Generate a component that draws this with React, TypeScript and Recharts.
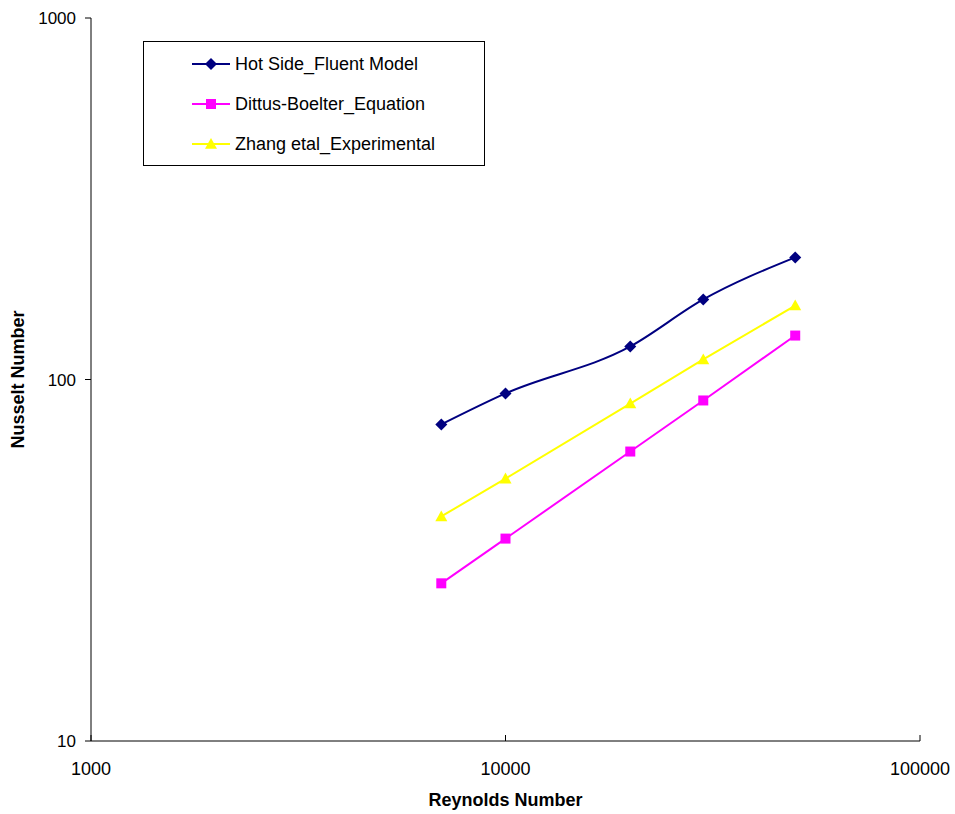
import React from "react";
import { LineChart, Line, XAxis, YAxis } from "recharts";

const reynolds = [7000, 10000, 20000, 30000, 50000];
const hotSide = [75.1, 91.5, 123.4, 166.5, 217.6];
const dittus = [27.3, 36.3, 63.2, 87.5, 132.3];
const zhang = [41.8, 53.2, 85.8, 113.6, 160.2];
const xTicks = [1000, 10000, 100000];
const yTicks = [10, 100, 1000];

const data = reynolds.map((re, i) => ({
  re,
  hot: hotSide[i],
  dittus: dittus[i],
  zhang: zhang[i],
}));

const FONT = "'Liberation Sans', Arial, sans-serif";

const Diamond = (props: any) => {
  const { cx, cy, fill } = props;
  if (cx == null || cy == null) return null;
  const r = 6;
  return <path d={`M${cx},${cy - r}L${cx + r},${cy}L${cx},${cy + r}L${cx - r},${cy}Z`} fill={fill} />;
};
const Square = (props: any) => {
  const { cx, cy, fill } = props;
  if (cx == null || cy == null) return null;
  const s = 5;
  return <rect x={cx - s} y={cy - s} width={2 * s} height={2 * s} fill={fill} />;
};
const Triangle = (props: any) => {
  const { cx, cy, fill } = props;
  if (cx == null || cy == null) return null;
  const s = 6;
  return <path d={`M${cx},${cy - s}L${cx + s},${cy + s * 0.8}L${cx - s},${cy + s * 0.8}Z`} fill={fill} />;
};

const series = [
  { key: "hot", name: "Hot Side_Fluent Model", color: "#000080", shape: Diamond, type: "monotone" },
  { key: "dittus", name: "Dittus-Boelter_Equation", color: "#FF00FF", shape: Square, type: "linear" },
  { key: "zhang", name: "Zhang etal_Experimental", color: "#FFFF00", shape: Triangle, type: "linear" },
];

const XTick = (props: any) => {
  const { x, y, payload } = props;
  return (
    <g>
      <line x1={x} y1={y} x2={x} y2={y - 6} stroke="#000" strokeWidth={1} />
      <text x={x} y={y + 34} textAnchor="middle" fontSize={18} fontFamily={FONT} fill="#000">
        {payload.value}
      </text>
    </g>
  );
};

const LegendBox = () => (
  <div
    style={{
      position: "absolute",
      left: 143,
      top: 41,
      width: 342,
      height: 125,
      border: "1px solid #000",
      background: "#fff",
      fontFamily: FONT,
      fontSize: 18,
      boxSizing: "border-box",
    }}
  >
    {series.map((s, i) => {
      const Shape = s.shape;
      return (
        <div key={s.key} style={{ position: "absolute", left: 48, top: 11 + i * 40, height: 22, display: "flex", alignItems: "center", whiteSpace: "nowrap" }}>
          <svg width={38} height={20} style={{ marginRight: 5 }}>
            <line x1={0} y1={10} x2={38} y2={10} stroke={s.color} strokeWidth={2} />
            <Shape cx={19} cy={10} fill={s.color} />
          </svg>
          <span style={{ color: "#000" }}>{s.name}</span>
        </div>
      );
    })}
  </div>
);

export default function App() {
  return (
    <div style={{ position: "absolute", left: 0, top: 0, width: 955, height: 814, background: "#fff" }}>
      <LineChart width={955} height={814} data={data} margin={{ top: 18, right: 35, bottom: 13, left: 31 }}>
        <XAxis
          dataKey="re"
          type="number"
          scale="log"
          domain={[1000, 100000]}
          ticks={xTicks}
          allowDataOverflow
          height={60}
          tickSize={0}
          tickMargin={0}
          tickLine={false}
          tick={<XTick />}
          stroke="#000"
          label={{ value: "Reynolds Number", position: "insideBottom", offset: -5, fontSize: 18, fontWeight: "bold", fontFamily: FONT, fill: "#000" }}
        />
        <YAxis
          type="number"
          scale="log"
          domain={[10, 1000]}
          ticks={yTicks}
          allowDataOverflow
          width={60}
          tickSize={6}
          tickMargin={9}
          stroke="#000"
          tick={{ fontSize: 17, fontFamily: FONT, fill: "#000" }}
          label={{ value: "Nusselt Number", angle: -90, position: "insideLeft", offset: -13, fontSize: 18, fontWeight: "bold", fontFamily: FONT, fill: "#000", style: { textAnchor: "middle" } }}
        />
        {series.map((s) => (
          <Line
            key={s.key}
            dataKey={s.key}
            name={s.name}
            type={s.type as any}
            stroke={s.color}
            strokeWidth={2}
            dot={<s.shape fill={s.color} />}
            activeDot={false}
            isAnimationActive={false}
          />
        ))}
      </LineChart>
      <LegendBox />
    </div>
  );
}
